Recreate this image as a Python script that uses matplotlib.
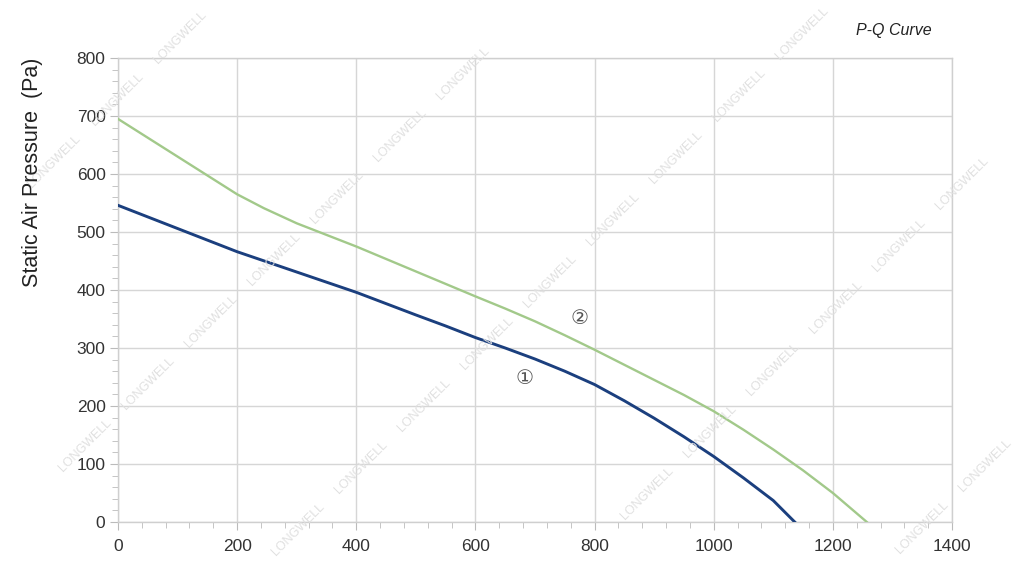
import numpy as np
import matplotlib
matplotlib.use("Agg")
import matplotlib.pyplot as plt
from matplotlib.ticker import MultipleLocator

plt.rcParams['font.family'] = ['Liberation Sans', 'DejaVu Sans', 'Noto Sans CJK SC']

# ------------------------------------------------------------
# Data
# ------------------------------------------------------------
# curve 1 (dark blue)
q1 = [0, 100, 200, 300, 400, 500, 550, 600, 650, 700, 750, 800, 850, 900, 950, 1000, 1050, 1100, 1136]
p1 = [546, 506, 466, 431, 396, 357, 338, 318, 300, 281, 260, 237, 209, 179, 147, 113, 76, 37, 0]

# curve 2 (light green)
q2 = [0, 100, 200, 245, 300, 400, 500, 600, 650, 700, 750, 800, 850, 900, 950, 1000, 1050, 1100, 1150, 1200, 1257]
p2 = [695, 630, 565, 541, 515, 475, 432, 389, 368, 346, 322, 297, 271, 245, 219, 191, 159, 125, 89, 50, 0]

curve_labels = ['\u2460', '\u2461']
label_pos = [(683, 247), (774, 351)]

x_ticks = [0, 200, 400, 600, 800, 1000, 1200, 1400]
y_ticks = [0, 100, 200, 300, 400, 500, 600, 700, 800]

# watermark lines: one anchor per diagonal row (figure pixels)
wm_anchors = [(180, 37), (463, 73), (802, 33), (962, 183), (985, 465)]
wm_step = (-63, 62)

W, H = 1024, 576
fig = plt.figure(figsize=(W / 100, H / 100), dpi=100)
ax = fig.add_axes([118 / W, 1 - 522 / H, (952 - 118) / W, (522 - 58) / H])

grid_col = '#d6d6d6'
ax.plot(q2, p2, color='#a2c98a', lw=1.7, zorder=3)
ax.plot(q1, p1, color='#1b3f7e', lw=2.1, zorder=4)

for txt, (x, y) in zip(curve_labels, label_pos):
    ax.text(x, y, txt, fontsize=14.5, color='#555555', ha='center', va='center', zorder=5)

ax.set_xlim(0, 1400)
ax.set_ylim(0, 800)
ax.set_xticks(x_ticks)
ax.set_yticks(y_ticks)
ax.xaxis.set_minor_locator(MultipleLocator(40))
ax.yaxis.set_minor_locator(MultipleLocator(20))
ax.grid(True, which='major', color=grid_col, lw=1.0)
ax.set_axisbelow(True)
for s in ax.spines.values():
    s.set_color('#cfcfcf')
    s.set_linewidth(1.0)
ax.tick_params(which='major', length=6, color='#bbbbbb', labelsize=12.5, labelcolor='#333333', pad=3)
ax.tick_params(which='minor', length=4, color='#bbbbbb')
ax.tick_params(axis='x', pad=6)

fig.text(33 / W, 1 - 172 / H, 'Static Air Pressure  (Pa)', rotation=90, fontsize=15.5,
         color='#222222', ha='center', va='center')
fig.text(894 / W, 1 - 31 / H, 'P-Q Curve', fontsize=11.5, style='italic',
         color='#222222', ha='center', va='center')

# "LONGWELL" watermarks, only the ones that fit wholly in the figure
for ax0, ay0 in wm_anchors:
    for k in range(-10, 11):
        x = ax0 + k * wm_step[0]
        y = ay0 + k * wm_step[1]
        if 30 < x < W - 30 and 30 < y < H - 30:
            fig.text(x / W, 1 - y / H, 'LONGWELL', fontsize=9, color='#e0e0e0',
                     rotation=45, ha='center', va='center', rotation_mode='anchor',
                     zorder=0.5)

fig.savefig('out.png', dpi=100)
